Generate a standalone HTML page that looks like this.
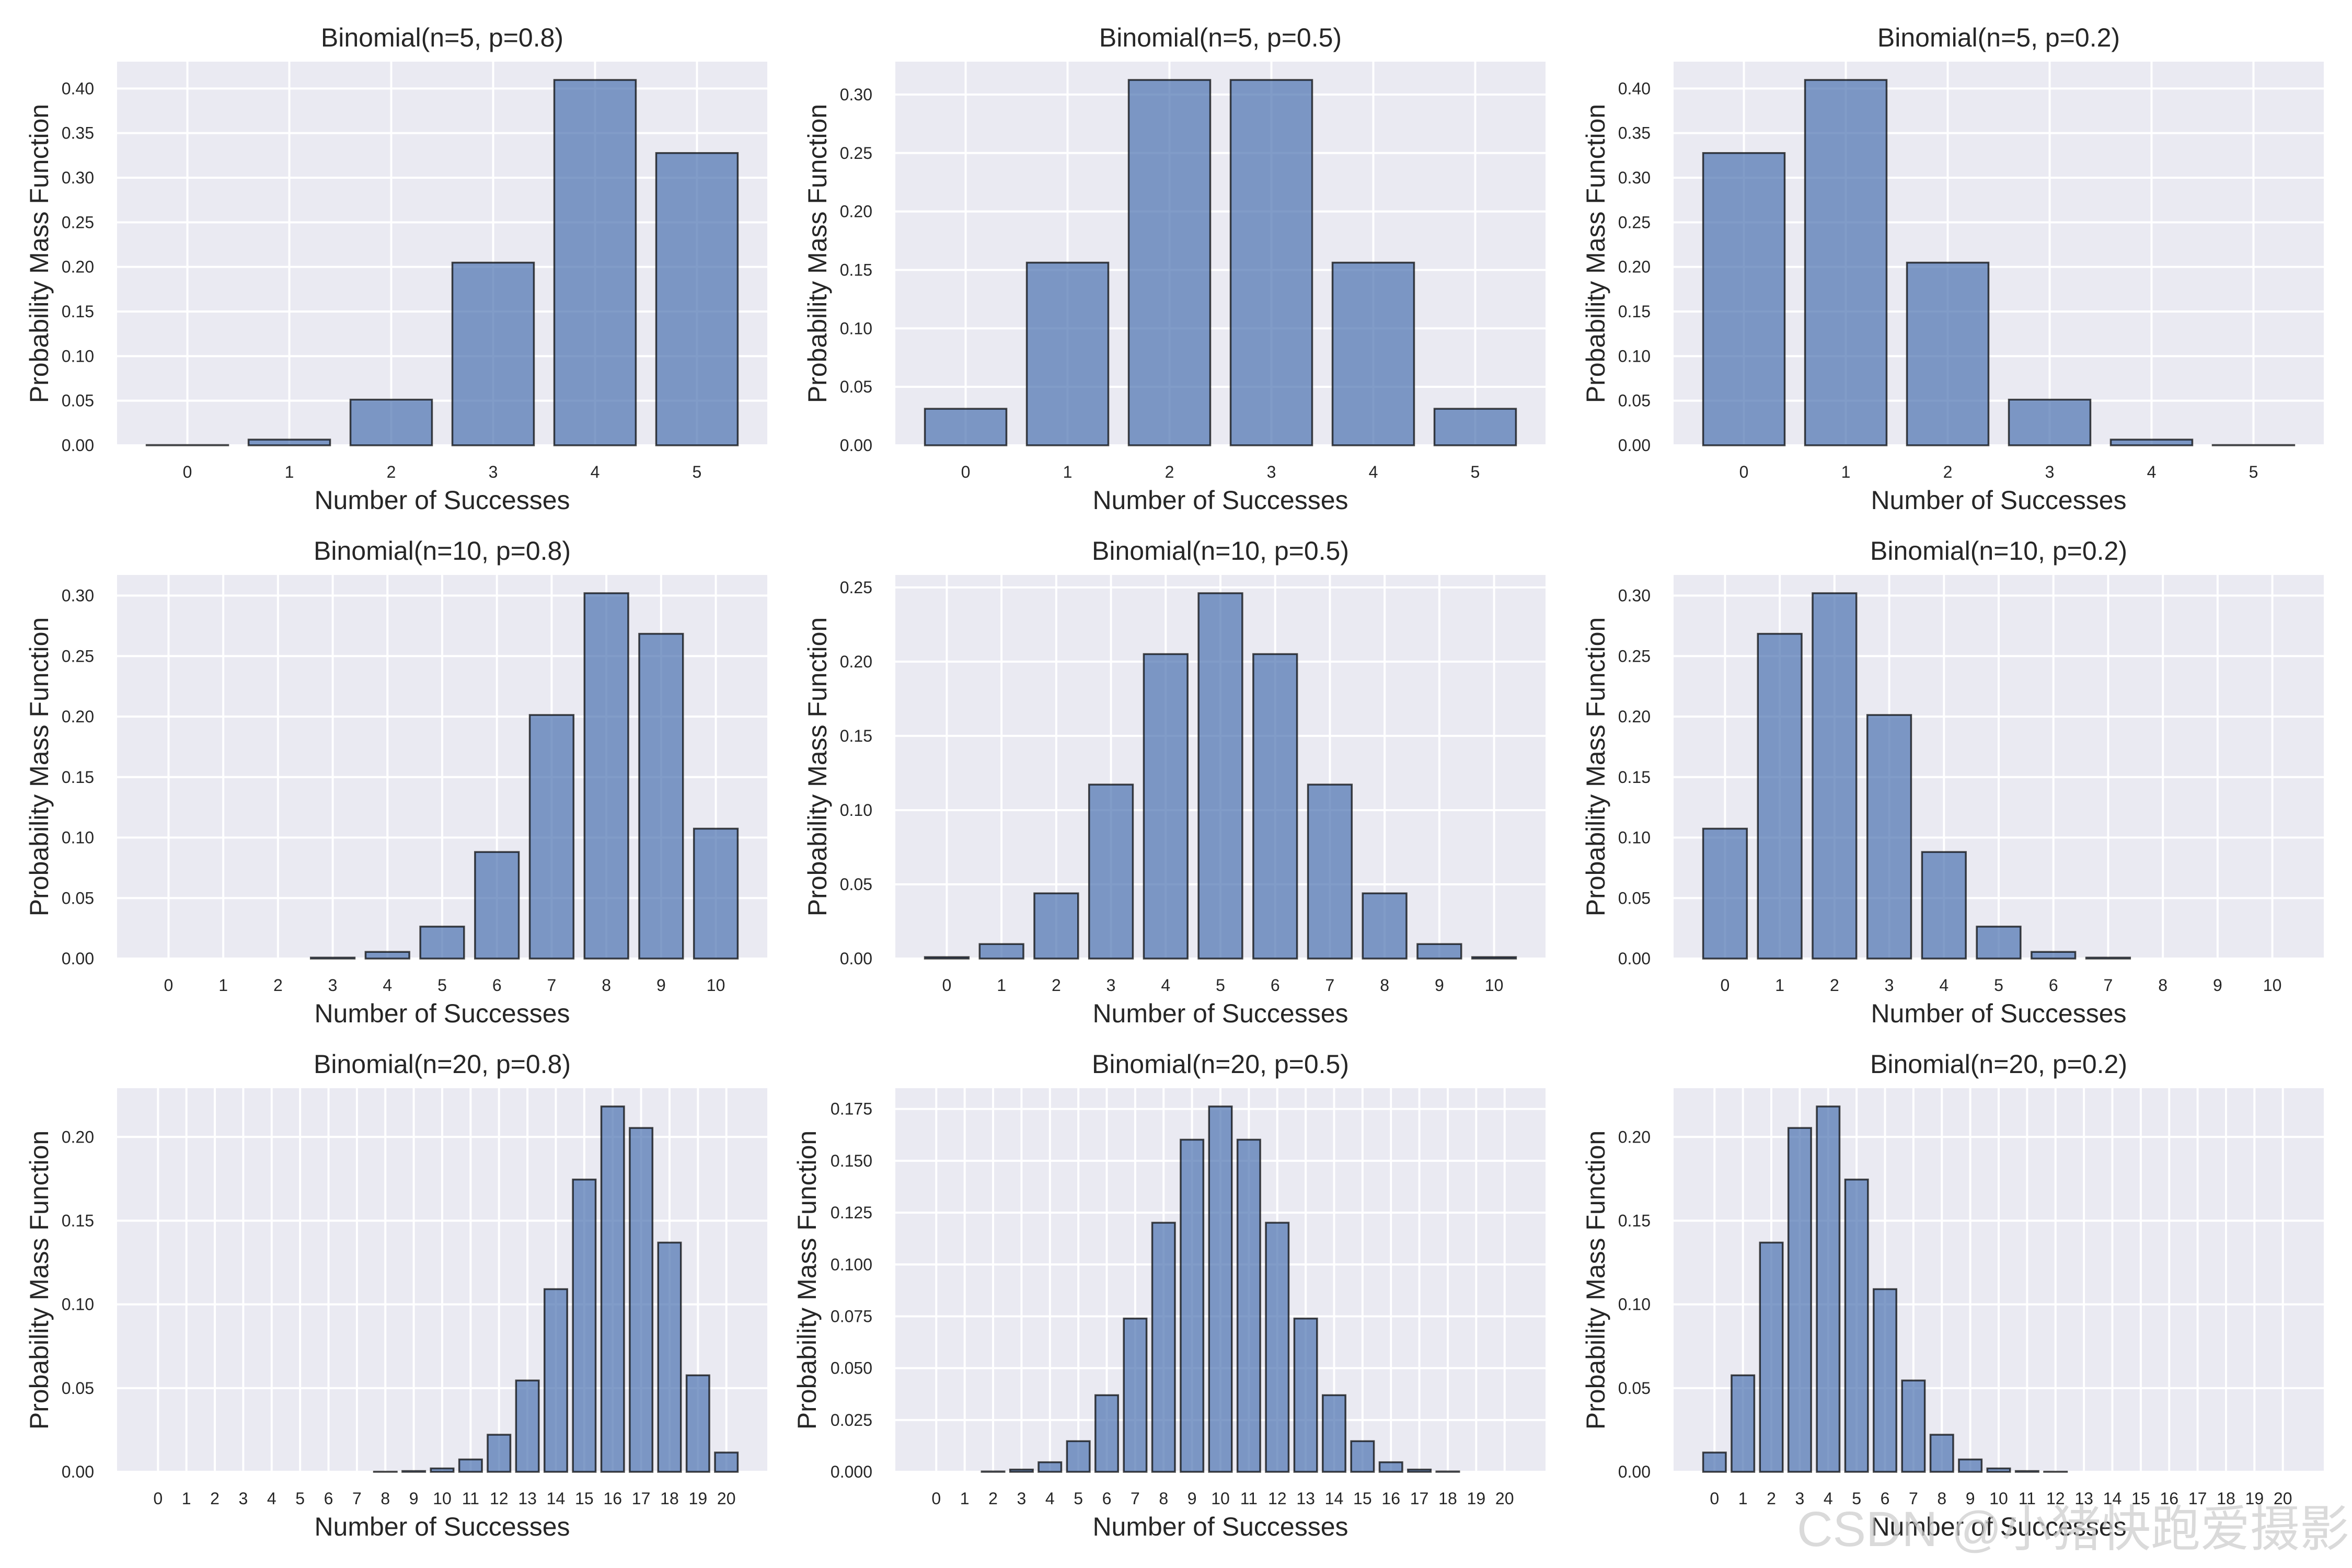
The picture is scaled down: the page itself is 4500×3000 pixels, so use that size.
<!DOCTYPE html>
<html><head><meta charset="utf-8">
<style>
html,body{margin:0;padding:0;background:#fff;}
svg{display:block;}
text{font-family:"Liberation Sans","Noto Sans CJK SC",sans-serif;fill:#262626;}
</style></head>
<body>
<svg id="fig" xmlns="http://www.w3.org/2000/svg" width="4500" height="3000" viewBox="0 0 4500 3000">
<rect width="4500" height="3000" fill="#fff"/>
<g id="plots"></g>
<text x="4495" y="2958" text-anchor="end" font-size="95" style="fill:rgba(205,205,205,0.75)">CSDN @小猪快跑爱摄影</text>
</svg>
<script>
// panel titles and parameters
const panelTitles = ["Binomial(n=5, p=0.8)","Binomial(n=5, p=0.5)","Binomial(n=5, p=0.2)",
 "Binomial(n=10, p=0.8)","Binomial(n=10, p=0.5)","Binomial(n=10, p=0.2)",
 "Binomial(n=20, p=0.8)","Binomial(n=20, p=0.5)","Binomial(n=20, p=0.2)"];
const panelN = [5,5,5,10,10,10,20,20,20];
// series values (pmf)
const pmf_5_08 = [0.00032,0.0064,0.0512,0.2048,0.4096,0.32768];
const pmf_5_05 = [0.03125,0.15625,0.3125,0.3125,0.15625,0.03125];
const pmf_5_02 = [0.32768,0.4096,0.2048,0.0512,0.0064,0.00032];
const pmf_10_08 = [0.0000001,0.0000041,0.0000737,0.000786,0.005505,0.026424,0.08808,0.201327,0.30199,0.268435,0.107374];
const pmf_10_05 = [0.000977,0.009766,0.043945,0.117188,0.205078,0.246094,0.205078,0.117188,0.043945,0.009766,0.000977];
const pmf_10_02 = [0.107374,0.268435,0.30199,0.201327,0.08808,0.026424,0.005505,0.000786,0.0000737,0.0000041,0.0000001];
const pmf_20_08 = [0,0,0,0,0.00000001,0.00000017,0.0000017,0.0000133,0.0000866,0.000462,0.002031,0.007387,0.022161,0.05455,0.1091,0.17456,0.218199,0.205364,0.136909,0.057646,0.011529];
const pmf_20_05 = [0.00000095,0.000019,0.000181,0.001087,0.004621,0.014786,0.036964,0.073929,0.120134,0.160179,0.176197,0.160179,0.120134,0.073929,0.036964,0.014786,0.004621,0.001087,0.000181,0.000019,0.00000095];
const pmf_20_02 = [0.011529,0.057646,0.136909,0.205364,0.218199,0.17456,0.1091,0.05455,0.022161,0.007387,0.002031,0.000462,0.0000866,0.0000133,0.0000017,0.00000017,0.00000001,0,0,0,0];
const panelSeries = [pmf_5_08,pmf_5_05,pmf_5_02,pmf_10_08,pmf_10_05,pmf_10_02,pmf_20_08,pmf_20_05,pmf_20_02];
// y tick labels per panel
const yt_a = ["0.00","0.05","0.10","0.15","0.20","0.25","0.30","0.35","0.40"];
const yt_b = ["0.00","0.05","0.10","0.15","0.20","0.25","0.30"];
const yt_c = ["0.00","0.05","0.10","0.15","0.20","0.25"];
const yt_d = ["0.00","0.05","0.10","0.15","0.20"];
const yt_e = ["0.000","0.025","0.050","0.075","0.100","0.125","0.150","0.175"];
const panelYTicks = [yt_a,yt_b,yt_a,yt_b,yt_c,yt_b,yt_d,yt_e,yt_d];

const NS="http://www.w3.org/2000/svg";
const root=document.getElementById('plots');
function mk(tag,attrs,parent){const e=document.createElementNS(NS,tag);for(const k in attrs)e.setAttribute(k,attrs[k]);parent.appendChild(e);return e;}
const colX=[224,1713,3202], rowY=[118,1100,2082], W=1244, H=734;

panelSeries.forEach((vals,i)=>{
  const ax0=colX[i%3], ay0=rowY[Math.floor(i/3)];
  const n=panelN[i];
  const m=0.05*(n+0.8);
  const xmin=-0.4-m, xmax=n+0.4+m;
  const ymax=Math.max(...vals)*1.05;
  const sx=v=>ax0+(v-xmin)/(xmax-xmin)*W;
  const sy=v=>ay0+H-v/ymax*H;
  const g=mk('g',{},root);
  
  
  const bg=mk('rect',{x:ax0,y:ay0,width:W,height:H,fill:'#eaeaf2'},g);
  
  
  for(let k=0;k<=n;k++){
    const x=sx(k);
    mk('line',{x1:x,x2:x,y1:ay0,y2:ay0+H,stroke:'#fff','stroke-width':4},g);
    const t=mk('text',{x:x,y:ay0+H+62,'text-anchor':'middle','font-size':32},g);
    t.textContent=String(k);
    
    
  }
  panelYTicks[i].forEach(lbl=>{
    const v=parseFloat(lbl);
    const y=sy(v);
    mk('line',{x1:ax0,x2:ax0+W,y1:y,y2:y,stroke:'#fff','stroke-width':4},g);
    const t=mk('text',{x:ax0-44,y:y+11,'text-anchor':'end','font-size':32},g);
    t.textContent=lbl;
    
    
  });
  vals.forEach((v,k)=>{
    const x1=sx(k-0.4), x2=sx(k+0.4);
    const y=sy(v);
    if(ay0+H-y<0.2) return;
    const b=mk('rect',{x:x1,y:y,width:x2-x1,height:ay0+H-y,fill:'#4c72b0','fill-opacity':0.7,stroke:'#000','stroke-opacity':0.7,'stroke-width':3.5},g);
    
    
  });
  const tt=mk('text',{x:ax0+W/2,y:ay0-29,'text-anchor':'middle','font-size':50},g);
  tt.textContent=panelTitles[i];
  
  
  const xl=mk('text',{x:ax0+W/2,y:ay0+H+122,'text-anchor':'middle','font-size':50},g);
  xl.textContent='Number of Successes';
  
  
  const lx=ax0-(i===7?170:150)+18, ly=ay0+H/2;
  const yl=mk('text',{x:lx,y:ly,'text-anchor':'middle','font-size':50,transform:'rotate(-90 '+lx+' '+ly+')'},g);
  yl.textContent='Probability Mass Function';
  
  
});
</script>
</body></html>
